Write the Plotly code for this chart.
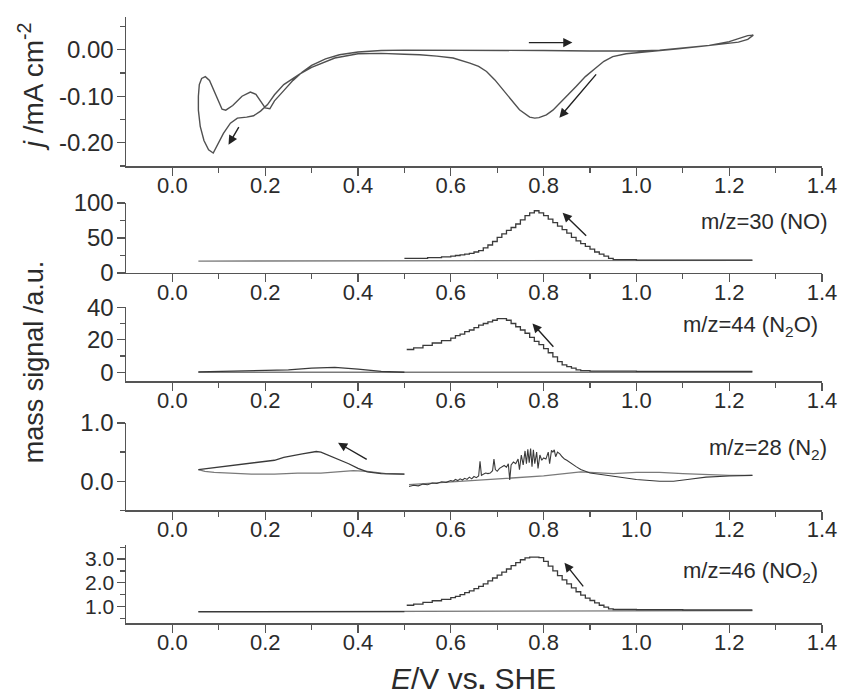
import plotly.graph_objects as go

# ---------------- data ----------------
# Cyclic voltammogram (potential E / V vs SHE, current density j / mA cm^-2), traced as a closed loop
cv_E = [0.5, 0.55, 0.6, 0.7, 0.8, 0.9, 0.95, 1.0, 1.05, 1.1, 1.157, 1.2, 1.222, 1.24, 1.252,
        1.24, 1.22, 1.18, 1.14, 1.09, 1.035, 0.978, 0.949, 0.93, 0.913, 0.89, 0.87, 0.85, 0.834, 0.82,
        0.806, 0.79, 0.781, 0.77, 0.748, 0.73, 0.713, 0.695, 0.677, 0.66, 0.641, 0.62, 0.605, 0.57,
        0.533, 0.5, 0.45, 0.4, 0.35, 0.3, 0.275, 0.24, 0.22, 0.205, 0.19, 0.175, 0.16, 0.14, 0.125,
        0.11, 0.1, 0.088, 0.078, 0.068, 0.06, 0.056, 0.056, 0.058, 0.063, 0.071, 0.08, 0.09, 0.1,
        0.107, 0.115, 0.13, 0.15, 0.168, 0.18, 0.19, 0.2, 0.21, 0.22, 0.24, 0.26, 0.28, 0.3, 0.33,
        0.36, 0.4, 0.45, 0.5]
cv_j = [-0.001, -0.001, -0.001, -0.001, -0.002, -0.003, -0.003, -0.003, -0.001, 0.003, 0.009, 0.017, 0.025, 0.03, 0.031,
        0.022, 0.016, 0.011, 0.007, 0.002, -0.004, -0.009, -0.015, -0.025, -0.039, -0.058, -0.079, -0.1, -0.115, -0.13,
        -0.14, -0.146, -0.147, -0.145, -0.129, -0.108, -0.086, -0.065, -0.047, -0.036, -0.029, -0.022, -0.018, -0.014,
        -0.011, -0.010, -0.008, -0.009, -0.018, -0.038, -0.052, -0.075, -0.097, -0.118, -0.132, -0.142, -0.145, -0.147, -0.158,
        -0.18, -0.2, -0.222, -0.215, -0.195, -0.165, -0.13, -0.1, -0.075, -0.062, -0.058, -0.066, -0.09, -0.115,
        -0.128, -0.13, -0.12, -0.1, -0.091, -0.096, -0.11, -0.125, -0.127, -0.11, -0.088, -0.066, -0.048, -0.034, -0.02,
        -0.011, -0.005, -0.002, -0.001]

# m/z = 30 (NO)
no_E = [0.50, 0.52, 0.55, 0.58, 0.60, 0.61, 0.62, 0.63, 0.64, 0.65, 0.66, 0.67, 0.68, 0.69, 0.70,
        0.71, 0.72, 0.73, 0.74, 0.75, 0.76, 0.77, 0.78, 0.79, 0.80, 0.81, 0.82, 0.83, 0.84, 0.85,
        0.86, 0.87, 0.88, 0.89, 0.90, 0.91, 0.92, 0.93, 0.94, 0.95, 1.0, 1.1, 1.2, 1.25]
no_sig = [21, 21, 22, 23, 24, 25, 26, 27, 28, 30, 32, 36, 40, 45, 51,
          56, 61, 65, 70, 76, 82, 86, 89, 86, 82, 77, 72, 67, 62, 57,
          51, 46, 42, 38, 34, 30, 27, 24, 21, 19, 18.5, 18.5, 18.5, 18.5]
no_base_E = [0.056, 0.5, 1.25]
no_base = [17, 17.5, 18]

# m/z = 44 (N2O)
n2o_E = [0.505, 0.52, 0.54, 0.56, 0.58, 0.60, 0.61, 0.62, 0.63, 0.64, 0.65, 0.66, 0.67, 0.68, 0.69,
         0.70, 0.71, 0.72, 0.73, 0.74, 0.75, 0.76, 0.77, 0.78, 0.79, 0.80, 0.81, 0.82, 0.83, 0.84,
         0.85, 0.86, 0.87, 0.88, 0.90, 1.0, 1.25]
n2o_sig = [14, 15, 16.5, 18, 19.5, 21, 22.5, 23.5, 25, 26, 27.5, 29, 30, 31, 32,
           33, 33, 32, 30, 28, 26, 24, 21.5, 19, 17, 14.5, 12, 9.5, 6.5, 4.5,
           3.5, 2.5, 1.5, 1, 0.7, 0.5, 0.5]
n2o_low_E = [0.056, 0.1, 0.2, 0.25, 0.3, 0.35, 0.4, 0.45, 0.5]
n2o_low = [0.3, 0.5, 1, 1.5, 2.5, 3, 2, 0.5, 0]
n2o_base_E = [0.056, 0.5, 1.25]
n2o_base = [0, 0, 0]

# m/z = 28 (N2)
n2_E = [0.510, 0.520, 0.530, 0.540, 0.550, 0.560, 0.570, 0.580, 0.590, 0.600, 0.605, 0.610, 0.615, 0.620,
        0.625, 0.630, 0.635, 0.640, 0.645, 0.650, 0.655, 0.660, 0.663, 0.666, 0.670, 0.675, 0.680, 0.685,
        0.690, 0.693, 0.696, 0.700, 0.705, 0.710, 0.715, 0.720, 0.724, 0.727, 0.730, 0.735, 0.740, 0.745,
        0.748, 0.752, 0.756, 0.760, 0.763, 0.766, 0.769, 0.772, 0.775, 0.778, 0.781, 0.785, 0.788, 0.792,
        0.796, 0.800, 0.805, 0.810, 0.813, 0.817, 0.820, 0.823, 0.826, 0.830, 0.835, 0.840, 0.845, 0.850,
        0.855, 0.860, 0.870, 0.880, 0.890, 0.900, 0.920, 0.950, 0.980, 1.000, 1.050, 1.080, 1.110, 1.150,
        1.200, 1.250]
n2_sig = [-0.09, -0.07, -0.08, -0.05, -0.06, -0.03, -0.04, -0.01, -0.02, 0.01, 0.0, 0.03, 0.01, 0.04,
          0.02, 0.05, 0.03, 0.07, 0.04, 0.08, 0.06, 0.09, 0.34, 0.10, 0.12, 0.14, 0.13, 0.14,
          0.18, 0.38, 0.20, 0.17, 0.22, 0.25, 0.27, 0.24, 0.30, 0.02, 0.28, 0.33, 0.30, 0.38,
          0.20, 0.45, 0.28, 0.52, 0.30, 0.55, 0.32, 0.56, 0.25, 0.54, 0.30, 0.50, 0.22, 0.45,
          0.36, 0.40, 0.38, 0.50, 0.30, 0.53, 0.50, 0.54, 0.42, 0.50, 0.47, 0.42, 0.38, 0.36,
          0.33, 0.30, 0.25, 0.20, 0.17, 0.14, 0.12, 0.09, 0.05, 0.03, 0.0, 0.0, 0.03, 0.07,
          0.09, 0.10]
n2_base_E = [0.51, 0.6, 0.7, 0.8, 0.88, 0.95, 1.0, 1.05, 1.1, 1.15, 1.2, 1.25]
n2_base = [-0.06, -0.01, 0.04, 0.09, 0.16, 0.13, 0.15, 0.15, 0.13, 0.11, 0.10, 0.10]
n2_hump_E = [0.5, 0.45, 0.42, 0.4, 0.38, 0.36, 0.34, 0.32, 0.31, 0.3, 0.28, 0.26, 0.24, 0.22, 0.2,
             0.17, 0.13, 0.1, 0.07, 0.056]
n2_hump = [0.12, 0.13, 0.16, 0.22, 0.3, 0.37, 0.44, 0.5, 0.51, 0.5, 0.47, 0.44, 0.41, 0.36, 0.34,
           0.31, 0.28, 0.25, 0.22, 0.2]
n2_low_E = [0.056, 0.07, 0.09, 0.13, 0.17, 0.22, 0.27, 0.32, 0.36, 0.39, 0.42, 0.46, 0.5]
n2_low = [0.2, 0.17, 0.15, 0.13, 0.12, 0.12, 0.14, 0.14, 0.16, 0.18, 0.17, 0.13, 0.12]

# m/z = 46 (NO2)
no2_E = [0.505, 0.52, 0.54, 0.56, 0.58, 0.60, 0.61, 0.62, 0.63, 0.64, 0.65, 0.66, 0.67, 0.68, 0.69,
         0.70, 0.71, 0.72, 0.73, 0.74, 0.75, 0.76, 0.77, 0.78, 0.79, 0.80, 0.81, 0.82, 0.83, 0.84,
         0.85, 0.86, 0.87, 0.88, 0.89, 0.90, 0.91, 0.92, 0.93, 0.94, 0.95, 1.0, 1.1, 1.25]
no2_sig = [1.05, 1.1, 1.17, 1.24, 1.3, 1.37, 1.42, 1.5, 1.58, 1.66, 1.75, 1.85, 1.95, 2.08, 2.2,
           2.32, 2.45, 2.58, 2.72, 2.85, 2.97, 3.05, 3.08, 3.08, 3.06, 2.9, 2.7, 2.5, 2.3, 2.12,
           1.95, 1.78, 1.62, 1.48, 1.35, 1.25, 1.15, 1.05, 0.97, 0.9, 0.87, 0.86, 0.85, 0.85]
no2_low_E = [0.056, 0.5]
no2_low = [0.78, 0.78]
no2_base_E = [0.056, 0.5, 1.25]
no2_base = [0.77, 0.78, 0.82]

x_ticks = [0.0, 0.2, 0.4, 0.6, 0.8, 1.0, 1.2, 1.4]
y_ticks = [[-0.2, -0.1, 0.0], [0, 50, 100], [0, 20, 40], [0.0, 1.0], [1.0, 2.0, 3.0]]
y_ticktext = [["-0.20", "-0.10", "0.00"], ["0", "50", "100"], ["0", "20", "40"], ["0.0", "1.0"],
              ["1.0", "2.0", "3.0"]]
y_minor = [[-0.25, -0.15, -0.05, 0.05], [25, 75], [10, 30], [-0.5, 0.5], [0.5, 1.5, 2.5, 3.5]]

# ---------------- figure ----------------
FONT = "Liberation Sans, Arial, sans-serif"
DARK = "#2b2b2b"
MAIN = "#3a3a3a"
GREY = "#7a7a7a"
AX = "#555555"

fig = go.Figure()

def add(x, y, k, color, shape="linear", width=1.3):
    fig.add_trace(go.Scatter(x=x, y=y, mode="lines", xaxis=f"x{k}" if k > 1 else "x",
                             yaxis=f"y{k}" if k > 1 else "y", line=dict(color=color, width=width, shape=shape),
                             showlegend=False, hoverinfo="skip"))

add(cv_E, cv_j, 1, "#505050", width=1.4)

add(no_base_E, no_base, 2, GREY)
add(no_E, no_sig, 2, MAIN, shape="hv")

add(n2o_base_E, n2o_base, 3, GREY)
add(n2o_low_E, n2o_low, 3, MAIN)
add(n2o_E, n2o_sig, 3, MAIN, shape="hv")

add(n2_low_E, n2_low, 4, GREY)
add(n2_base_E, n2_base, 4, GREY)
add(n2_hump_E, n2_hump, 4, MAIN)
add(n2_E, n2_sig, 4, MAIN, width=1.1)

add(no2_base_E, no2_base, 5, GREY)
add(no2_low_E, no2_low, 5, MAIN)
add(no2_E, no2_sig, 5, MAIN, shape="hv")

domains = [[0.754, 1.0], [0.5776, 0.693], [0.399, 0.521], [0.186, 0.330], [0.0, 0.129]]
yranges = [[-0.25, 0.07], [0, 100], [-5.5, 40], [-0.5, 1.0], [0.3, 3.6]]
ytick_sizes = [24, 24, 24, 24, 21]

xtickfont = dict(family=FONT, size=22, color=DARK)
layout = {}
for i in range(5):
    k = i + 1
    xs = "xaxis" if k == 1 else f"xaxis{k}"
    ys = "yaxis" if k == 1 else f"yaxis{k}"
    yname = "y" if k == 1 else f"y{k}"
    xname = "x" if k == 1 else f"x{k}"
    layout[xs] = dict(domain=[0, 1], anchor=yname, range=[-0.1, 1.4], tickvals=x_ticks,
                      ticktext=[f"{v:.1f}" for v in x_ticks], showline=True, linecolor=AX, linewidth=1.5,
                      ticks="outside", ticklen=8, tickwidth=1.3, tickcolor=AX, showgrid=False, zeroline=False,
                      tickfont=xtickfont, automargin=False, ticklabelstandoff=-9,
                      minor=dict(tickvals=[0.1, 0.3, 0.5, 0.7, 0.9, 1.1, 1.3], ticks="outside", ticklen=5,
                                 tickwidth=1.3, tickcolor=AX))
    layout[ys] = dict(domain=domains[i], anchor=xname, range=yranges[i], tickvals=y_ticks[i],
                      ticktext=y_ticktext[i], showline=True, linecolor=AX, linewidth=1.5, ticks="outside",
                      ticklen=8, tickwidth=1.3, tickcolor=AX, showgrid=False, zeroline=False,
                      tickfont=dict(family=FONT, size=ytick_sizes[i], color=DARK),
                      automargin=False, ticklabelstandoff=-2,
                      minor=dict(tickvals=y_minor[i], ticks="outside", ticklen=5, tickwidth=1.3, tickcolor=AX))

annots = []
lab_font = dict(family=FONT, size=22, color=DARK)
annots.append(dict(text="m/z=30 (NO)", xref="paper", yref="paper", x=1.011, y=0.662, xanchor="right",
                   yanchor="middle", showarrow=False, font=lab_font))
annots.append(dict(text="m/z=44 (N<sub>2</sub>O)", xref="paper", yref="paper", x=0.997, y=0.49, xanchor="right",
                   yanchor="middle", showarrow=False, font=lab_font))
annots.append(dict(text="m/z=28 (N<sub>2</sub>)", xref="paper", yref="paper", x=1.01, y=0.287, xanchor="right",
                   yanchor="middle", showarrow=False, font=lab_font))
annots.append(dict(text="m/z=46 (NO<sub>2</sub>)", xref="paper", yref="paper", x=0.997, y=0.084, xanchor="right",
                   yanchor="middle", showarrow=False, font=lab_font))
annots.append(dict(text="<i>j</i> /mA cm<sup>-2</sup>", xref="paper", yref="paper", x=-0.137, y=0.885,
                   xanchor="center", yanchor="middle", textangle=-90, showarrow=False,
                   font=dict(family=FONT, size=28, color=DARK)))
annots.append(dict(text="mass signal /a.u.", xref="paper", yref="paper", x=-0.133, y=0.431,
                   xanchor="center", yanchor="middle", textangle=-90, showarrow=False,
                   font=dict(family=FONT, size=27, color=DARK)))
annots.append(dict(text="<i>E</i>/V vs<b>.</b> SHE", xref="paper", yref="paper", x=0.499, y=-0.0924,
                   xanchor="center", yanchor="middle", showarrow=False,
                   font=dict(family=FONT, size=30, color=DARK)))

# arrows: (panel, tail E, tail value, head E, head value)
arrows = [(1, 0.765, 0.015, 0.862, 0.015),
          (1, 0.916, -0.05, 0.834, -0.146),
          (1, 0.145, -0.163, 0.121, -0.204),
          (2, 0.895, 51, 0.841, 86),
          (3, 0.824, 14.8, 0.776, 30),
          (4, 0.422, 0.36, 0.357, 0.66),
          (5, 0.888, 1.78, 0.845, 2.84)]
for k, tx, ty, hx, hy in arrows:
    xr = "x" if k == 1 else f"x{k}"
    yr = "y" if k == 1 else f"y{k}"
    annots.append(dict(text="", xref=xr, yref=yr, axref=xr, ayref=yr, x=hx, y=hy, ax=tx, ay=ty,
                       showarrow=True, arrowhead=2, arrowsize=1.3, arrowwidth=1.4, arrowcolor="#222222",
                       standoff=0, startstandoff=0))

fig.update_layout(width=844, height=698, margin=dict(l=126, r=22, t=17, b=75, autoexpand=False),
                  paper_bgcolor="white", plot_bgcolor="white", annotations=annots,
                  font=dict(family=FONT, color=DARK), **layout)

fig.write_html("out.html", config={"displayModeBar": False, "staticPlot": True},
               post_script="document.body.style.margin='0px';document.body.style.overflow='hidden';")
